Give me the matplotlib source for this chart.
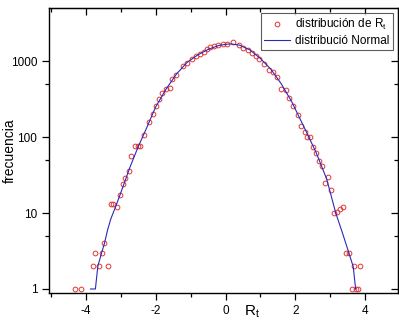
import numpy as np
import matplotlib
matplotlib.use("Agg")
import matplotlib.pyplot as plt
from matplotlib.ticker import FixedLocator, NullFormatter

plt.rcParams['font.family'] = ['Liberation Sans', 'DejaVu Sans']
plt.rcParams['axes.unicode_minus'] = False

# measured histogram of R_t (points)
rt_x = [-4.32, -4.15, -3.81, -3.64, -3.37, -3.73, -3.55, -3.47, -3.29, -3.22,
        -3.12, -3.03, -2.95, -2.88, -2.78, -2.70, -2.60, -2.51, -2.44, -2.34,
        -2.19, -2.09, -2.00, -1.91, -1.81, -1.71, -1.60, -1.52, -1.41, -1.22,
        -1.09, -0.95, -0.84, -0.74, -0.63, -0.53, -0.44, -0.32, -0.21, -0.08,
        0.04, 0.21, 0.40, 0.51, 0.65, 0.76, 0.88, 0.97, 1.09, 1.24,
        1.37, 1.49, 1.58, 1.73, 1.83, 1.94, 2.08, 2.17, 2.27, 2.33,
        2.43, 2.51, 2.59, 2.69, 2.76, 2.93, 2.86, 3.03, 3.12, 3.20,
        3.28, 3.37, 3.45, 3.54, 3.69, 3.86, 3.62, 3.73, 3.81]
rt_freq = [1, 1, 2, 2, 2, 3, 3, 4, 13, 13,
           12, 17, 24, 29, 36, 56, 77, 77, 76, 105,
           157, 200, 255, 318, 376, 425, 437, 575, 660, 860,
           950, 1070, 1160, 1235, 1310, 1420, 1515, 1580, 1625, 1660,
           1680, 1760, 1620, 1500, 1380, 1275, 1150, 1060, 920, 770,
           710, 615, 435, 410, 330, 258, 195, 141, 117, 99,
           99, 73, 62, 48, 42, 30, 25, 20, 10, 10.3,
           11.2, 12, 3, 3, 2, 2, 1, 1, 1]

# normal distribution curve
norm_x = [-3.87, -3.73, -3.66, -3.55, -3.47, -3.38, -3.29, -3.17, -3.03, -2.74,
          -2.50, -2.29, -2.00, -1.70, -1.40, -1.10, -0.80, -0.50, -0.20, 0.00,
          0.15, 0.40, 0.70, 1.00, 1.30, 1.60, 1.90, 2.29, 2.60, 2.90,
          3.16, 3.35, 3.54, 3.66, 3.73]
norm_freq = [1, 1, 2, 3, 4, 6, 8.3, 11.5, 17, 40,
             75, 123, 250, 430, 680, 960, 1200, 1420, 1600, 1660,
             1680, 1620, 1400, 1080, 780, 500, 290, 124, 62, 28,
             10, 5.5, 2.95, 1.97, 1]

fig = plt.figure(figsize=(3.99, 3.22), dpi=100)
ax = fig.add_axes([0.1228, 0.0901, 0.998 - 0.1228, 0.975 - 0.0901])

ax.plot(rt_x, rt_freq, 'o', ms=3.4, mfc='none', mec='#e03535', mew=0.7,
        label='distribución de R$_\\mathregular{t}$')
ax.plot(norm_x, norm_freq, '-', color='#2a2ab8', lw=0.8,
        label='distribució Normal')

ax.set_yscale('log')
ax.set_xlim(-5.06, 4.95)
ax.set_ylim(0.886, 4980)

ax.xaxis.set_major_locator(FixedLocator([-4, -2, 0, 2, 4]))
ax.xaxis.set_minor_locator(FixedLocator([-5, -3, -1, 1, 3]))
ax.yaxis.set_major_locator(FixedLocator([1, 10, 100, 1000]))
ax.yaxis.set_minor_locator(FixedLocator([5, 50, 500]))
ax.yaxis.set_minor_formatter(NullFormatter())
ax.set_yticklabels(['1', '10', '100', '1000'])

ax.tick_params(axis='both', which='both', labelsize=8.5, width=0.9)
ax.tick_params(axis='both', which='major', length=5, direction='out')
ax.tick_params(axis='both', which='minor', length=3, direction='out')
for s in ax.spines.values():
    s.set_linewidth(1.0)

# top and right axes with inward ticks, no labels
top = ax.secondary_xaxis('top')
top.xaxis.set_major_locator(FixedLocator([-4, -2, 0, 2, 4]))
top.xaxis.set_minor_locator(FixedLocator([-5, -3, -1, 1, 3]))
top.tick_params(which='major', direction='in', length=5, width=0.9, labeltop=False)
top.tick_params(which='minor', direction='in', length=3, width=0.9)
right = ax.secondary_yaxis('right')
right.yaxis.set_major_locator(FixedLocator([1, 10, 100, 1000]))
right.yaxis.set_minor_locator(FixedLocator([5, 50, 500]))
right.yaxis.set_minor_formatter(NullFormatter())
right.tick_params(which='major', direction='in', length=5, width=0.9, labelright=False)
right.tick_params(which='minor', direction='in', length=3, width=0.9)

ax.set_ylabel('frecuencia', fontsize=10)
ax.yaxis.set_label_coords(-0.092, 0.5)
ax.set_xlabel('R$_\\mathregular{t}$', fontsize=11)
ax.xaxis.set_label_coords(0.58, -0.035)

leg = ax.legend(loc='upper right', fontsize=8.5, frameon=True, fancybox=False,
                edgecolor='#333333', borderpad=0.3, handlelength=2.2,
                handletextpad=0.4, labelspacing=0.25, borderaxespad=0.45)
leg.get_frame().set_linewidth(0.8)

fig.savefig('out.png', dpi=100)
